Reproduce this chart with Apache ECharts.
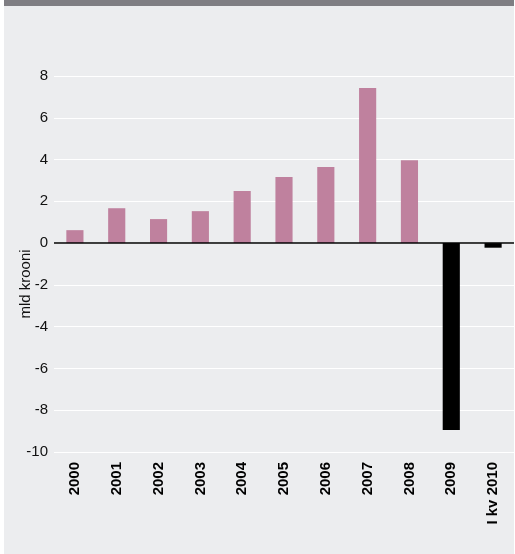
<!DOCTYPE html>
<html>
<head>
<meta charset="utf-8">
<script src="https://cdn.jsdelivr.net/npm/echarts@6/dist/echarts.min.js"></script>
<style>
    html, body { margin: 0; padding: 0; background: #ffffff; }
    #chart {
        position: absolute; left: 4px; top: 0;
        width: 510px; height: 548px;
        border-top: 6px solid #7f7e83;
        background: #ecedef;
    }
</style>
</head>
<body>
<div id="chart"></div>
<script>
// kategooriad ja väärtused (mld krooni)
var categories = ['2000', '2001', '2002', '2003', '2004', '2005', '2006', '2007', '2008', '2009', 'I kv 2010'];
var values = [0.62, 1.67, 1.15, 1.53, 2.49, 3.16, 3.64, 7.42, 3.97, -8.95, -0.22];
var yTicks = [-10, -8, -6, -4, -2, 0, 2, 4, 6, 8];

var font = '"Liberation Sans", Arial, Helvetica, sans-serif';

var barData = values.map(function (v) {
    return {
        value: v,
        itemStyle: {color: v < 0 ? '#000000' : '#bf819e'}
    };
});

var chart = echarts.init(document.getElementById('chart'));

chart.setOption({
    backgroundColor: '#ecedef',
    animation: false,
    grid: {
        left: 50,
        right: 0,
        top: 70,
        bottom: 102
    },
    xAxis: {
        type: 'category',
        data: categories,
        axisLine: {show: false, onZero: false},
        axisTick: {show: false},
        axisLabel: {
            rotate: 90,
            margin: 10,
            color: '#000000',
            fontWeight: 'bold',
            fontSize: 15,
            fontFamily: font
        },
        splitLine: {show: false}
    },
    yAxis: {
        type: 'value',
        min: yTicks[0],
        max: yTicks[yTicks.length - 1],
        interval: 2,
        axisLine: {show: false},
        axisTick: {show: false},
        axisLabel: {
            margin: 6,
            color: '#111111',
            fontSize: 15,
            fontFamily: font
        },
        splitLine: {
            show: true,
            lineStyle: {color: '#ffffff', width: 1.2}
        }
    },
    graphic: [{
        type: 'text',
        x: 22,
        y: 278,
        rotation: Math.PI / 2,
        style: {
            text: 'mld krooni',
            fill: '#111111',
            font: '15px ' + font,
            textAlign: 'center',
            textVerticalAlign: 'middle'
        }
    }],
    series: [{
        type: 'bar',
        data: barData,
        barWidth: '41%',
        markLine: {
            silent: true,
            symbol: 'none',
            label: {show: false},
            lineStyle: {color: '#000000', type: 'solid', width: 1.5},
            data: [{yAxis: 0}]
        }
    }]
});
</script>
</body>
</html>
